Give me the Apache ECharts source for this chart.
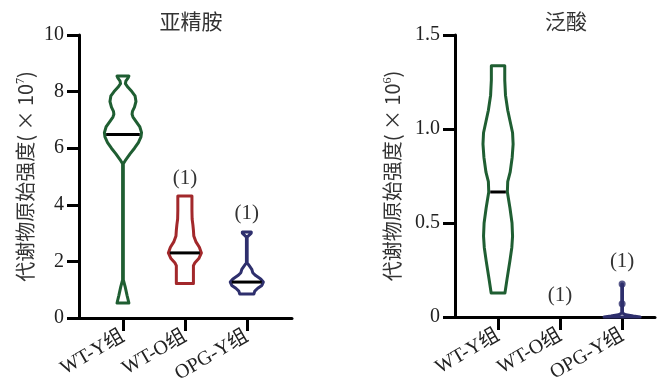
<!DOCTYPE html>
<html>
<head>
<meta charset="utf-8">
<script src="https://cdn.jsdelivr.net/npm/echarts@6/dist/echarts.min.js"></script>
<style>
  html, body { margin: 0; padding: 0; background: #fff; }
  #chart { width: 658px; height: 378px; }
</style>
</head>
<body>
<div id="chart"></div>
<script>
// Groups shown on both panels
const groups = ['WT-Y组', 'WT-O组', 'OPG-Y组'];

// 亚精胺 (×10^7): violin outlines as [intensity, relative density]
const spermidineWTY = [
  [0.53, 0.32], [0.8, 0.22], [1.1, 0.12], [1.35, 0.02], [5.45, 0.02],
  [5.6, 0.16], [5.8, 0.38], [6.0, 0.62], [6.2, 0.83], [6.4, 0.97],
  [6.55, 1.0], [6.75, 0.91], [6.95, 0.70], [7.1, 0.54], [7.2, 0.49],
  [7.3, 0.51], [7.45, 0.62], [7.65, 0.70], [7.85, 0.65], [8.0, 0.48],
  [8.15, 0.27], [8.28, 0.13], [8.38, 0.16], [8.48, 0.27], [8.55, 0.32]
];
const spermidineWTO = [
  [1.22, 0.46], [1.85, 0.46], [1.95, 0.54], [2.1, 0.75], [2.3, 0.89],
  [2.5, 0.78], [2.7, 0.59], [2.9, 0.48], [3.1, 0.46], [3.3, 0.43],
  [3.5, 0.39], [3.8, 0.38], [4.31, 0.38]
];
const spermidineOPGY = [
  [0.85, 0.38], [0.95, 0.43], [1.05, 0.59], [1.15, 0.81], [1.27, 0.89],
  [1.38, 0.75], [1.5, 0.48], [1.6, 0.32], [1.72, 0.27], [1.85, 0.13],
  [1.95, 0.02], [2.85, 0.02], [2.93, 0.13], [3.0, 0.24], [3.04, 0.24]
];
const spermidineMedians = [6.48, 2.3, 1.27];
const spermidineCounts = ['', '(1)', '(1)'];
const spermidineTicks = [0, 2, 4, 6, 8, 10];

// 泛酸 (×10^6)
const pantothenateWTY = [
  [0.128, 0.37], [0.2, 0.48], [0.3, 0.64], [0.37, 0.74], [0.43, 0.78],
  [0.5, 0.75], [0.58, 0.64], [0.665, 0.50], [0.72, 0.52], [0.77, 0.65],
  [0.85, 0.76], [0.92, 0.81], [0.98, 0.78], [1.04, 0.65], [1.1, 0.52],
  [1.18, 0.40], [1.26, 0.36], [1.337, 0.36]
];
const pantothenateWTO = [];
const pantothenateOPGY = [
  [0.0, 0.97], [0.005, 0.6], [0.012, 0.2], [0.02, 0.02], [0.176, 0.02]
];
const pantothenateMedians = [0.665, null, null];
const pantothenatePoints = [[2, 0.07], [2, 0.176]];
const pantothenateCounts = ['', '(1)', '(1)'];
const pantothenateTicks = [0, 0.5, 1.0, 1.5];

// ---- styling ----
const COLORS = ['#1f5e32', '#a2282b', '#2e2f6d'];
const HALF = 0.3;          // violin half-width at density 1, in category units
const SERIF = '"Liberation Serif", "Times New Roman", "Noto Sans CJK SC", serif';
const SANS_CJK = '"Noto Sans CJK SC", "Noto Sans", sans-serif';
const INK = '#222';

function densityAt(profile, v) {
  for (let k = 0; k < profile.length - 1; k++) {
    const [v0, d0] = profile[k], [v1, d1] = profile[k + 1];
    if (v >= v0 && v <= v1) return d0 + (d1 - d0) * (v - v0) / (v1 - v0);
  }
  return 0;
}

function violinSeries(axisIdx, profiles, medians, counts, labelLift) {
  return {
    type: 'custom',
    xAxisIndex: axisIdx,
    yAxisIndex: axisIdx,
    clip: false,
    z: 5,
    data: groups.map((g, i) => [i, 0]),
    renderItem(params, api) {
      const i = params.dataIndex;
      const prof = profiles[i];
      const children = [];
      let top = 0;
      if (prof.length) {
        const right = prof.map(([v, d]) => api.coord([i + d * HALF, v]));
        const left = prof.slice().reverse().map(([v, d]) => api.coord([i - d * HALF, v]));
        children.push({
          type: 'polygon',
          shape: { points: right.concat(left) },
          style: { fill: 'none', stroke: COLORS[i], lineWidth: 3, lineJoin: 'round' }
        });
        top = prof[prof.length - 1][0];
        if (medians[i] != null) {
          const hw = densityAt(prof, medians[i]) * HALF;
          const a = api.coord([i - hw, medians[i]]);
          const b = api.coord([i + hw, medians[i]]);
          children.push({
            type: 'line',
            shape: { x1: a[0] + 1.5, y1: a[1], x2: b[0] - 1.5, y2: b[1] },
            style: { stroke: '#000', lineWidth: 3 }
          });
        }
      }
      if (counts[i]) {
        const p = api.coord([i, top]);
        children.push({
          type: 'text',
          x: p[0], y: p[1] - labelLift,
          style: {
            text: counts[i], fill: '#333',
            fontFamily: SERIF, fontSize: 21,
            align: 'center', verticalAlign: 'middle'
          }
        });
      }
      return { type: 'group', children };
    }
  };
}

function xAxisFor(gridIndex, min, max) {
  return {
    type: 'value', gridIndex, min, max,
    splitLine: { show: false },
    axisLine: { show: true, onZero: false, lineStyle: { color: '#000', width: 3 } },
    axisTick: { show: true, customValues: [0, 1, 2], length: 13, lineStyle: { color: '#000', width: 3 } },
    axisLabel: {
      customValues: [0, 1, 2],
      formatter: v => groups[Math.round(v)],
      rotate: 30, margin: 17,
      fontFamily: SERIF, fontSize: 20, color: INK
    }
  };
}

function yAxisFor(gridIndex, ticks, fmt, nameText, nameGap) {
  return {
    type: 'value', gridIndex,
    min: ticks[0], max: ticks[ticks.length - 1],
    interval: ticks[1] - ticks[0],
    splitLine: { show: false },
    axisLine: { show: true, onZero: false, lineStyle: { color: '#000', width: 3 } },
    axisTick: { show: true, length: 12, lineStyle: { color: '#000', width: 3 } },
    axisLabel: { formatter: fmt, margin: 15, fontFamily: SERIF, fontSize: 20, color: INK },
    name: nameText,
    nameLocation: 'middle',
    nameRotate: 90,
    nameGap,
    nameTextStyle: {
      fontFamily: SANS_CJK, fontSize: 20, color: '#333',
      rich: {
        p: { fontFamily: SANS_CJK, fontSize: 20, color: '#333' },
        s: { fontFamily: SERIF, fontSize: 12, color: '#333', verticalAlign: 'top' }
      }
    }
  };
}

const chart = echarts.init(document.getElementById('chart'), null, { renderer: 'canvas' });

chart.setOption({
  animation: false,
  backgroundColor: '#fff',
  title: [
    { text: '亚精胺', left: 186, top: 6, textAlign: 'center',
      textStyle: { fontFamily: SANS_CJK, fontSize: 21, fontWeight: 'normal', color: '#333' } },
    { text: '泛酸', left: 561, top: 6, textAlign: 'center',
      textStyle: { fontFamily: SANS_CJK, fontSize: 21, fontWeight: 'normal', color: '#333' } }
  ],
  grid: [
    { left: 79, top: 35, width: 213, height: 283, containLabel: false, outerBoundsMode: 'none' },
    { left: 455, top: 35, width: 200, height: 282, containLabel: false, outerBoundsMode: 'none' }
  ],
  xAxis: [
    xAxisFor(0, -0.71, 2.73),
    xAxisFor(1, -0.694, 2.53)
  ],
  yAxis: [
    yAxisFor(0, spermidineTicks, v => String(v), '代谢物原始强度{p|( × 10}{s|7}{p|)}', 44),
    yAxisFor(1, pantothenateTicks, v => (v === 0 ? '0' : v.toFixed(1)), '代谢物原始强度{p|( × 10}{s|6}{p|)}', 53)
  ],
  series: [
    violinSeries(0, [spermidineWTY, spermidineWTO, spermidineOPGY], spermidineMedians, spermidineCounts, 18),
    violinSeries(1, [pantothenateWTY, pantothenateWTO, pantothenateOPGY], pantothenateMedians, pantothenateCounts, 22),
    {
      type: 'scatter', xAxisIndex: 1, yAxisIndex: 1, z: 6,
      data: pantothenatePoints, symbolSize: 7,
      itemStyle: { color: COLORS[2] }
    }
  ]
});
</script>
</body>
</html>
